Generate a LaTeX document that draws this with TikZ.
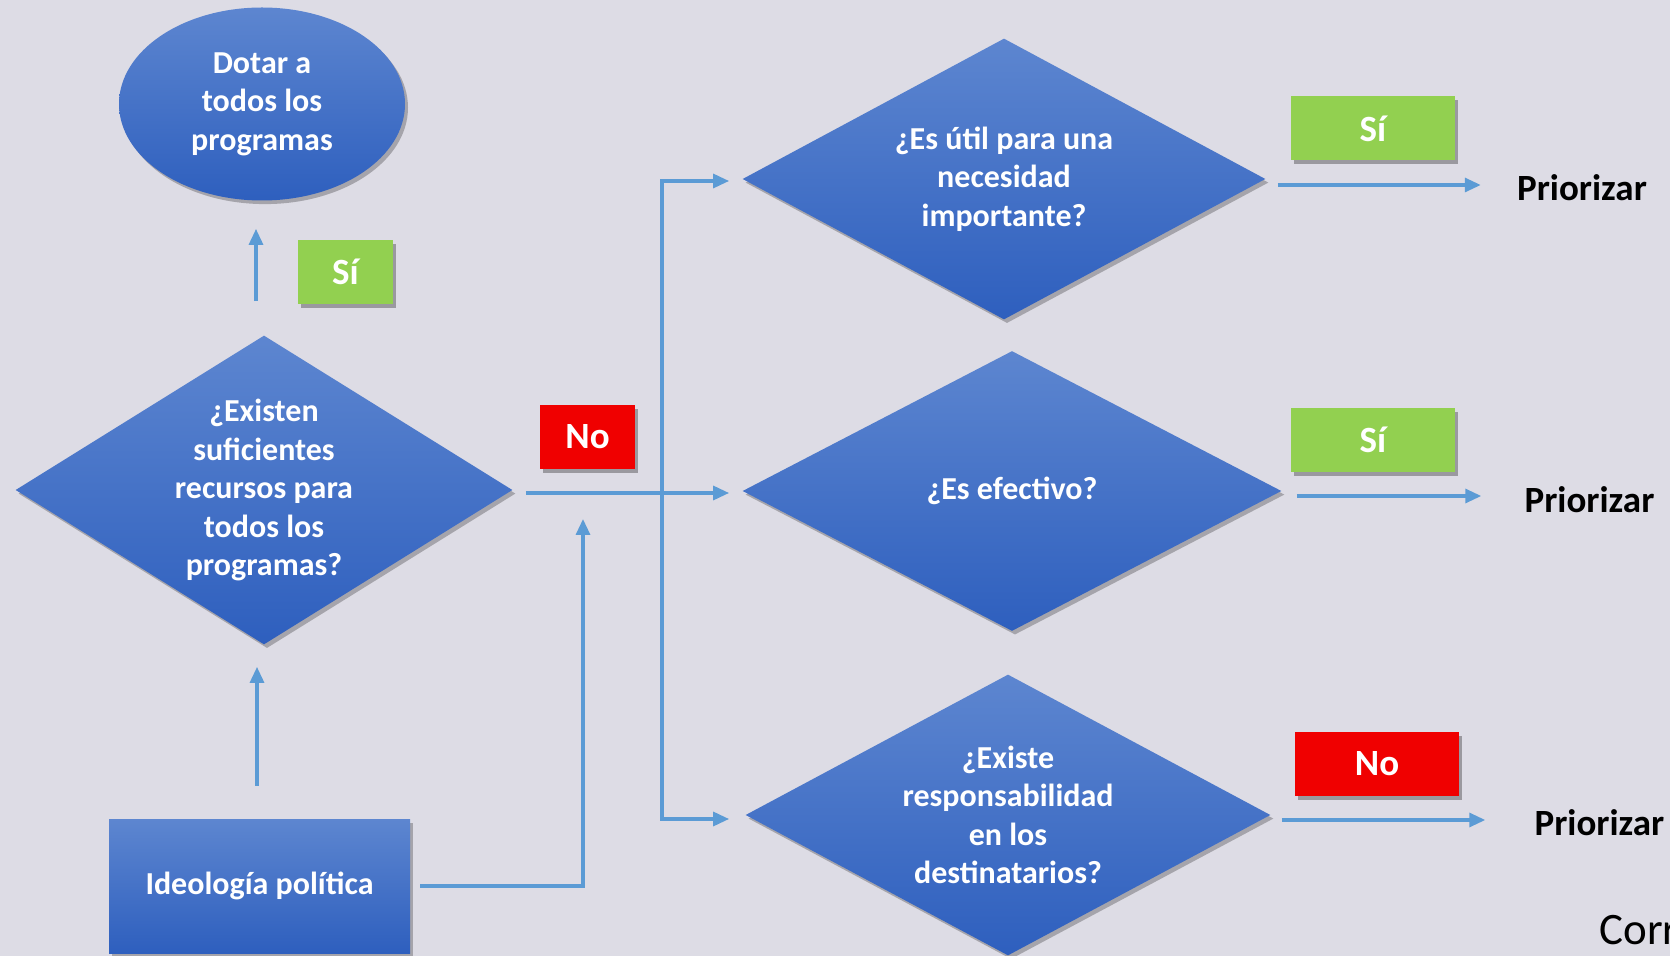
\documentclass[tikz,border=0pt]{standalone}
\usepackage{fontspec}
\setmainfont{Carlito}
\usepackage{xcolor}
\usepackage{tikz}
\usetikzlibrary{shapes.geometric, arrows.meta, positioning, shadows}

\definecolor{slide}{RGB}{221,220,229}
\definecolor{boxtop}{RGB}{93,134,208}
\definecolor{boxbot}{RGB}{46,95,190}
\definecolor{flow}{RGB}{91,155,213}
\definecolor{yesgreen}{RGB}{146,208,80}
\definecolor{nored}{RGB}{240,0,0}

\begin{document}
\begin{tikzpicture}[x=0.5pt, y=-0.5pt]
\tikzstyle{shade} = [draw=none, top color=boxtop, bottom color=boxbot, text=white, drop shadow={shadow xshift=1.5pt, shadow yshift=-1.8pt, opacity=0.25, fill=black}]
\tikzstyle{question} = [shade, diamond, inner sep=0pt, align=center, font=\bfseries\fontsize{16}{19.25}\selectfont]
\tikzstyle{tag} = [rectangle, minimum height=32pt, text=white, font=\bfseries\fontsize{18.5}{22}\selectfont, drop shadow={shadow xshift=1.5pt, shadow yshift=-2pt, opacity=0.3, fill=black}]
\tikzstyle{outcome} = [inner sep=0pt, font=\bfseries\fontsize{18.5}{22}\selectfont]
\tikzstyle{arr} = [draw=flow, line width=1.6pt, -{Triangle[length=8pt,width=7pt]}]

\useasboundingbox (0,0) rectangle (1670,956);
\fill[slide] (0,0) rectangle (1670,956);

% left column
\node (dotar) [shade, ellipse, minimum width=143pt, minimum height=96.5pt, inner sep=0pt, align=center, font=\bfseries\fontsize{16}{19.25}\selectfont] at (262,104) {Dotar a\\todos los\\programas};
\node (dl) [question, aspect=1.61, minimum width=248.5pt, minimum height=154.5pt] at (264,490) {¿Existen\\suficientes\\recursos para\\todos los\\programas?};
\node (ideo) [shade, rectangle, minimum width=150.5pt, minimum height=67pt, font=\bfseries\fontsize{16}{19}\selectfont] at (259.5,886) {Ideología política};
\node (si1) [tag, fill=yesgreen, minimum width=47.5pt] at (345.5,272) {Sí};
\node (no1) [tag, fill=nored, minimum width=47.5pt] at (587.5,437) {No};

% right column
\node (dt) [question, aspect=1.86, minimum width=261.5pt, minimum height=140.5pt] at (1004,179) {¿Es útil para una\\necesidad\\importante?};
\node (dm) [question, aspect=1.92, minimum width=269.5pt, minimum height=140pt] at (1012,491) {¿Es efectivo?};
\node (db) [question, aspect=1.87, minimum width=262.5pt, minimum height=140.5pt] at (1008,815) {¿Existe\\responsabilidad\\en los\\destinatarios?};
\node (si2) [tag, fill=yesgreen, minimum width=82pt] at (1373,128.5) {Sí};
\node (si3) [tag, fill=yesgreen, minimum width=82pt] at (1373,440) {Sí};
\node (no2) [tag, fill=nored, minimum width=82pt] at (1377,764) {No};
\node (p1) [outcome] at (1582,188) {Priorizar};
\node (p2) [outcome] at (1589.5,499.5) {Priorizar};
\node (p3) [outcome] at (1599.5,823) {Priorizar};
\node (cor) [anchor=base west, inner sep=0pt, font=\fontsize{22.5}{27}\selectfont] at (1599,944) {Corr};

\coordinate (split) at (662,493);

% connectors
\draw[arr] ([shift={(-8,-34)}]dl.north) -- ([shift={(-6,28)}]dotar.south);
\draw[arr] ([shift={(-2.5,-33)}]ideo.north) -- ([shift={(-7,22)}]dl.south);
\draw[arr] ([shift={(13,3)}]dl.east) -- ([shift={(-13,2)}]dm.west);
\draw[arr] (split) |- ([shift={(-13,2)}]dt.west);
\draw[arr] (split) |- ([shift={(-16,4)}]db.west);
\draw[arr] ([xshift=5pt]ideo.east) -| ([shift={(-79,26)}]split);
\draw[arr] ([shift={(12,6)}]dt.east) -- ([shift={(-36,-3)}]p1.west);
\draw[arr] ([shift={(15,5)}]dm.east) -- ([shift={(-43,-3.5)}]p2.west);
\draw[arr] ([shift={(11,5)}]db.east) -- ([shift={(-49,-3)}]p3.west);

\end{tikzpicture}
\end{document}
